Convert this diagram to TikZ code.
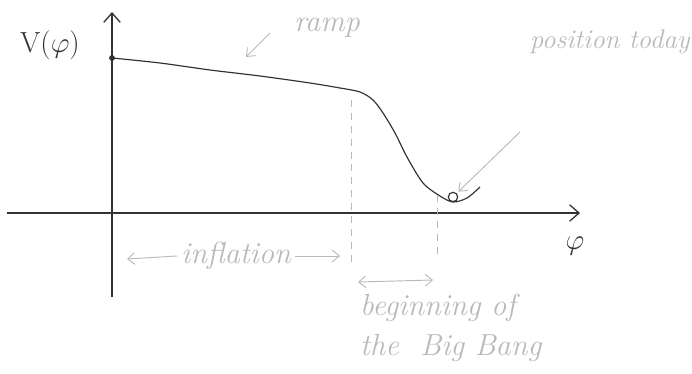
\documentclass[tikz,border=0pt]{standalone}
\usepackage{amsmath}
\usetikzlibrary{arrows.meta, positioning}
\definecolor{ink}{RGB}{50,50,50}
\definecolor{pencil}{RGB}{185,185,185}
\tikzset{
  axis/.style={ink, line width=1.1pt, -{Straight Barb[length=8pt, width=14pt]}},
  note/.style={pencil, font=\fontsize{26}{34}\selectfont\itshape},
  pointer/.style={pencil, line width=0.8pt, -{Straight Barb[length=6pt, width=10pt]}},
  guide/.style={pencil, line width=0.8pt, dash pattern=on 6pt off 5pt}
}

\begin{document}
\begin{tikzpicture}[x=0.03cm, y=-0.03cm]
  \useasboundingbox (0,0) rectangle (692,374);
  % axes
  \coordinate (xstart) at (7,213);
  \coordinate (xend) at (580,213);
  \coordinate (ystart) at (112,297);
  \coordinate (yend) at (112,12);
  \draw[axis] (xstart) -- (xend);
  \draw[axis] (ystart) -- (yend);
  \node[ink, font=\fontsize{26}{30}\selectfont] (vlabel) at (50,45) {$\mathrm{V}(\varphi)$};
  \node[ink, font=\fontsize{26}{30}\selectfont] (philabel) at (575,246) {$\varphi$};
  % potential
  \draw[ink, line width=1pt, smooth, tension=0.5] plot coordinates {(112,58)(160,63)(210,70)(260,76)(310,83)(340,88)(360,92)(373,100)(383,113)(395,133)(407,157)(423,183)(440,196)(453,202)(467,198)(480,187)};
  \fill[ink] (112,58) circle (2.5pt);
  \node[circle, draw=ink, fill=white, line width=1pt, inner sep=0pt, minimum size=8pt] (ball) at (453,197) {};
  % guides
  \coordinate (endtop) at (351,100);
  \coordinate (endbot) at (351,265);
  \coordinate (bangtop) at (437,195);
  \coordinate (bangbot) at (437,255);
  \draw[guide] (endtop) -- (endbot);
  \draw[guide] (bangtop) -- (bangbot);
  % notes
  \node[note] (ramp) at (327,28) {ramp};
  \coordinate (rampfrom) at (270,33);
  \coordinate (rampto) at (246,57);
  \draw[pointer] (rampfrom) -- (rampto);
  \node[note, font=\fontsize{23}{30}\selectfont\itshape, anchor=east, inner sep=1pt] (today) at (691,42) {position today};
  \coordinate (todayfrom) at (520,132);
  \draw[pointer, shorten >=2pt] (todayfrom) -- (ball.north east);
  \node[note] (infl) at (236,256) {inflation};
  \coordinate (infleft) at (127,259);
  \coordinate (inflright) at (340,256);
  \draw[pointer] (infl.west) -- (infleft);
  \draw[pointer] (infl.east) -- (inflright);
  \coordinate (bangleft) at (358,282);
  \coordinate (bangright) at (433,280);
  \draw[pointer, {Straight Barb[length=6pt, width=10pt]}-{Straight Barb[length=6pt, width=10pt]}] (bangleft) -- (bangright);
  \node[note, align=left, anchor=north west] (bang) at (356,290) {beginning of\\the \ Big Bang};
\end{tikzpicture}
\end{document}
